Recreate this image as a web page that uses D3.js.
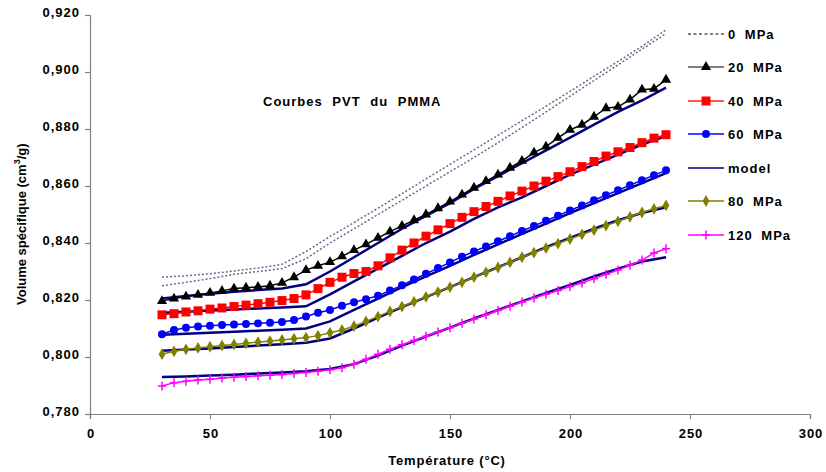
<!DOCTYPE html>
<html><head><meta charset="utf-8">
<script src="https://cdn.jsdelivr.net/npm/d3@7"></script>
<style>body{margin:0;background:#fff}svg{display:block;font-family:"Liberation Sans",Arial,sans-serif}</style>
</head><body><svg id="c" width="826" height="472"></svg>
<script>
const temps = [30,35,40,45,50,55,60,65,70,75,80,85,90,95,100,105,110,115,120,125,130,135,140,145,150,155,160,165,170,175,180,185,190,195,200,205,210,215,220,225,230,235,240];
const temps10 = [30,40,50,60,70,80,90,100,110,120,130,140,150,160,170,180,190,200,210,220,230,240];
const xTicks = [0,50,100,150,200,250,300];
const yTicks = [0.78,0.80,0.82,0.84,0.86,0.88,0.90,0.92];

const p0a = [0.8280,0.8285,0.8292,0.8302,0.8312,0.8325,0.8370,0.8423,0.8472,0.8522,0.8573,0.8625,0.8676,0.8727,0.8778,0.8829,0.8880,0.8932,0.8985,0.9037,0.9090,0.9148];
const p0b = [0.8250,0.8262,0.8275,0.8290,0.8300,0.8310,0.8345,0.8400,0.8450,0.8500,0.8550,0.8600,0.8650,0.8700,0.8752,0.8805,0.8860,0.8915,0.8970,0.9025,0.9080,0.9135];
const p20 = [0.8196,0.8205,0.8212,0.8218,0.8225,0.8232,0.8240,0.8243,0.8246,0.8250,0.8260,0.8280,0.8305,0.8320,0.8333,0.8353,0.8375,0.8395,0.8418,0.8440,0.8460,0.8480,0.8500,0.8522,0.8545,0.8570,0.8594,0.8617,0.8640,0.8664,0.8688,0.8717,0.8738,0.8769,0.8797,0.8815,0.8843,0.8873,0.8878,0.8903,0.8938,0.8941,0.8973];
const p40 = [0.8148,0.8152,0.8158,0.8162,0.8168,0.8172,0.8177,0.8182,0.8187,0.8192,0.8198,0.8205,0.8218,0.8240,0.8262,0.8280,0.8293,0.8300,0.8320,0.8348,0.8375,0.8400,0.8424,0.8446,0.8468,0.8490,0.8510,0.8528,0.8546,0.8565,0.8582,0.8600,0.8617,0.8633,0.8650,0.8668,0.8686,0.8705,0.8720,0.8735,0.8752,0.8768,0.8780];
const p60 = [0.8080,0.8095,0.8103,0.8107,0.8110,0.8112,0.8114,0.8116,0.8118,0.8120,0.8123,0.8130,0.8142,0.8155,0.8165,0.8180,0.8192,0.8203,0.8215,0.8233,0.8252,0.8272,0.8292,0.8312,0.8332,0.8352,0.8370,0.8388,0.8406,0.8424,0.8442,0.8460,0.8478,0.8496,0.8514,0.8532,0.8550,0.8568,0.8585,0.8603,0.8620,0.8638,0.8655];
const p80 = [0.8010,0.8020,0.8027,0.8032,0.8036,0.8040,0.8044,0.8048,0.8052,0.8056,0.8060,0.8064,0.8068,0.8075,0.8085,0.8095,0.8108,0.8125,0.8142,0.8160,0.8177,0.8194,0.8211,0.8228,0.8245,0.8262,0.8280,0.8297,0.8314,0.8332,0.8350,0.8366,0.8382,0.8398,0.8414,0.8430,0.8445,0.8461,0.8476,0.8492,0.8507,0.8520,0.8532];
const p120 = [0.7898,0.7910,0.7915,0.7919,0.7922,0.7926,0.7929,0.7932,0.7934,0.7936,0.7939,0.7942,0.7946,0.7950,0.7955,0.7962,0.7975,0.7992,0.8010,0.8027,0.8043,0.8058,0.8073,0.8088,0.8103,0.8118,0.8133,0.8148,0.8163,0.8178,0.8193,0.8207,0.8220,0.8233,0.8247,0.8260,0.8275,0.8290,0.8305,0.8322,0.8340,0.8365,0.8380];
const m20 = [0.8205,0.8214,0.8222,0.8229,0.8235,0.8240,0.8255,0.8300,0.8350,0.8400,0.8450,0.8495,0.8540,0.8590,0.8635,0.8680,0.8725,0.8770,0.8815,0.8860,0.8900,0.8945];
const m40 = [0.8155,0.8159,0.8163,0.8167,0.8170,0.8174,0.8178,0.8220,0.8265,0.8310,0.8355,0.8400,0.8440,0.8485,0.8525,0.8560,0.8600,0.8640,0.8675,0.8710,0.8745,0.8775];
const m60 = [0.8078,0.8082,0.8085,0.8089,0.8092,0.8096,0.8100,0.8125,0.8165,0.8205,0.8245,0.8283,0.8320,0.8358,0.8395,0.8432,0.8468,0.8505,0.8540,0.8575,0.8610,0.8645];
const m80 = [0.8022,0.8026,0.8030,0.8035,0.8040,0.8045,0.8050,0.8065,0.8100,0.8138,0.8175,0.8210,0.8245,0.8280,0.8315,0.8350,0.8385,0.8418,0.8450,0.8480,0.8505,0.8525];
const m120 = [0.7930,0.7932,0.7935,0.7938,0.7942,0.7946,0.7950,0.7958,0.7975,0.8005,0.8040,0.8072,0.8103,0.8135,0.8165,0.8195,0.8225,0.8253,0.8283,0.8310,0.8335,0.8350];

const legendLabels = ["0 MPa","20 MPa","40 MPa","60 MPa","model","80 MPa","120 MPa"];

const svg = d3.select("#c");
const x = d3.scaleLinear().domain([0,300]).range([90,810]);
const y = d3.scaleLinear().domain([0.78,0.92]).range([414,15]);
const fmt = v => d3.format(".3f")(v).replace(".", ",");
const AX = "#808080";
const FS = 13;

// axes
const gy = svg.append("g").attr("transform","translate(90,0)")
  .call(d3.axisLeft(y).tickValues(yTicks).tickSize(5).tickPadding(5).tickFormat(fmt));
const gx = svg.append("g").attr("transform","translate(0,414)")
  .call(d3.axisBottom(x).tickValues(xTicks).tickSize(5).tickPadding(10).tickFormat(d3.format("d")));
[gx,gy].forEach(g=>{
  g.select(".domain").attr("stroke",AX).attr("stroke-width",1.2);
  g.selectAll(".tick line").attr("stroke",AX).attr("stroke-width",1.2);
  g.selectAll("text").attr("fill","#000").attr("font-size",FS).attr("font-weight","bold")
   .attr("letter-spacing","1px").attr("font-family","'Liberation Sans',Arial,sans-serif");
});
gy.selectAll("text").attr("dy","0.1em");
gx.selectAll("text").attr("dx","0.5px");

const line = (xs) => d3.line().x((d,i)=>x(xs[i])).y(d=>y(d));

// 0 MPa dotted
[p0a,p0b].forEach(s=>{
  svg.append("path").attr("d",line(temps10)(s)).attr("fill","none")
    .attr("stroke","#6a6a8a").attr("stroke-width",1.5).attr("stroke-dasharray","2,2");
});
// models
[m20,m40,m60,m80,m120].forEach(s=>{
  svg.append("path").attr("d",line(temps10)(s)).attr("fill","none")
    .attr("stroke","#000080").attr("stroke-width",2.5);
});

const series = [
  {v:p20,c:"#000000",sym:d3.symbolTriangle,size:45},
  {v:p40,c:"#ff0000",sym:d3.symbolSquare,size:81},
  {v:p60,c:"#0000ff",sym:d3.symbolCircle,size:50},
  {v:p80,c:"#808000",sym:d3.symbolDiamond,size:40},
  {v:p120,c:"#ff00ff",sym:"plus",size:0}
];
function marker(g,s,cx,cy){
  if(s.sym==="plus"){
    g.append("path").attr("d",`M${cx-4},${cy}H${cx+4}M${cx},${cy-4.5}V${cy+4.5}`)
      .attr("stroke",s.c).attr("stroke-width",1.5).attr("fill","none");
  } else {
    g.append("path").attr("d",d3.symbol(s.sym,s.size)()).attr("transform",`translate(${cx},${cy})`)
      .attr("fill",s.c);
  }
}
series.forEach(s=>{
  svg.append("path").attr("d",line(temps)(s.v)).attr("fill","none")
    .attr("stroke",s.c).attr("stroke-width",1.5);
  const g = svg.append("g");
  s.v.forEach((v,i)=>marker(g,s,x(temps[i]),y(v)));
});

// legend
const lg = svg.append("g");
const ly = [34,67,101,134,168,201,235];
const lstyle = [
  {c:"#000",dash:"3,2.5",w:1.2},
  {c:"#000",w:1.2,s:series[0]},
  {c:"#ff2020",w:1.5,s:series[1]},
  {c:"#0000ff",w:1.5,s:series[2]},
  {c:"#000080",w:1.5},
  {c:"#808000",w:1.5,s:series[3]},
  {c:"#ff00ff",w:1.5,s:series[4]}
];
legendLabels.forEach((t,i)=>{
  const st = lstyle[i];
  lg.append("line").attr("x1",688).attr("x2",724).attr("y1",ly[i]).attr("y2",ly[i])
    .attr("stroke",st.c).attr("stroke-width",st.w).attr("stroke-dasharray",st.dash||null);
  if(st.s) marker(lg,st.s,706,ly[i]);
  lg.append("text").attr("x",728).attr("y",ly[i]).attr("dy","0.35em")
    .attr("font-size",FS).attr("font-weight","bold").attr("letter-spacing","1px")
    .attr("word-spacing","4px").text(t);
});

// title
svg.append("text").attr("x",263).attr("y",101).attr("dy","0.35em").attr("font-size",FS)
  .attr("font-weight","bold").attr("letter-spacing","1px").attr("word-spacing","5px").text("Courbes PVT du PMMA");
// axis titles
svg.append("text").attr("x",447).attr("y",460).attr("dy","0.35em").attr("text-anchor","middle")
  .attr("font-size",FS).attr("font-weight","bold").attr("letter-spacing","0.8px").text("Température (°C)");
const yt = svg.append("text").attr("transform","translate(21,305) rotate(-90)")
  .attr("dy","0.35em").attr("font-size",FS).attr("font-weight","bold");
yt.append("tspan").text("Volume spécifique (cm");
yt.append("tspan").attr("font-size",9).attr("dy","-0.6em").text("3");
yt.append("tspan").attr("dy","0.45em").text("/g)");
</script></body></html>
